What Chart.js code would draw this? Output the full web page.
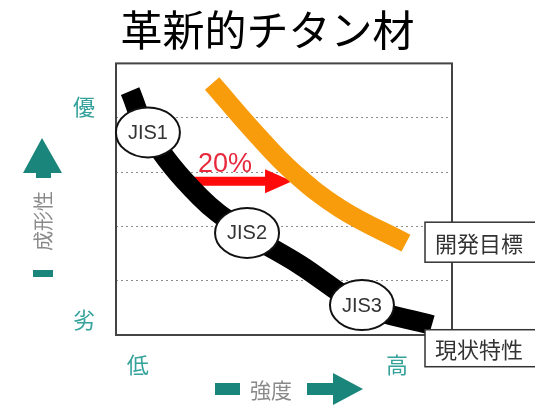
<!DOCTYPE html>
<html>
<head>
<meta charset="utf-8">
<script src="https://cdn.jsdelivr.net/npm/chart.js@4.4.1/dist/chart.umd.min.js"></script>
<style>
  html, body { margin: 0; padding: 0; background: #fff; }
  #wrap { width: 535px; height: 410px; }
</style>
</head>
<body>
<div id="wrap"><canvas id="chart"></canvas></div>
<script>
// strength (x: 0-10) vs formability (y: 0-5)
const currentX = [0.42, 0.95, 2.5, 3.9, 5.48, 7.32, 9.4];
const currentY = [4.49, 3.73, 2.54, 1.88, 1.29, 0.55, 0.18];
const targetX = [2.86, 4.2, 5.27, 6.67, 8.63];
const targetY = [4.63, 3.68, 3.0, 2.33, 1.69];
const jisNames = ['JIS1', 'JIS2', 'JIS3'];
const jisX = [0.95, 3.9, 7.32];
const jisY = [3.73, 1.88, 0.55];
const arrowX = [2.14, 5.24];
const arrowY = 2.83;
const arrowLabel = '20%';
const seriesLabels = ['現状特性', '開発目標'];
const xTickValues = [0.65, 8.36];
const xTickLabels = ['低', '高'];
const yTickValues = [0.28, 4.2];
const yTickLabels = ['劣', '優'];
const xTitle = '強度';
const yTitle = '成形性';

const TEAL = '#1a857a';
const TICK_TEAL = '#35a29b';

function toPoints(xs, ys) {
    return xs.map((x, i) => ({ x: x, y: ys[i] }));
}

function drawArrowRight(ctx, x0, x1, y, shaft, headLen, headH) {
    ctx.beginPath();
    ctx.rect(x0, y - shaft / 2, x1 - headLen - x0, shaft);
    ctx.moveTo(x1 - headLen, y - headH / 2);
    ctx.lineTo(x1, y);
    ctx.lineTo(x1 - headLen, y + headH / 2);
    ctx.closePath();
    ctx.fill();
}

const decor = {
    id: 'decor',
    beforeDatasetsDraw(chart) {
        const { ctx, scales } = chart;
        ctx.save();
        // red 20% arrow
        const ax0 = scales.x.getPixelForValue(arrowX[0]);
        const ax1 = scales.x.getPixelForValue(arrowX[1]);
        const ay = scales.y.getPixelForValue(arrowY);
        ctx.fillStyle = '#ff0a0a';
        drawArrowRight(ctx, ax0, ax1, ay, 9, 27, 24);
        ctx.fillStyle = '#e8283c';
        ctx.font = '27px "Liberation Sans", Arial, sans-serif';
        ctx.textAlign = 'left';
        ctx.textBaseline = 'alphabetic';
        ctx.fillText(arrowLabel, ax0 + 10, ay - 9);
        ctx.restore();
    },
    afterDatasetsDraw(chart) {
        const { ctx, chartArea: ca } = chart;
        ctx.save();
        // plot frame
        ctx.strokeStyle = '#444';
        ctx.lineWidth = 2;
        ctx.strokeRect(ca.left, ca.top, ca.right - ca.left, ca.bottom - ca.top);

        // JIS grade ellipses
        const jisMeta = chart.getDatasetMeta(2);
        jisMeta.data.forEach((pt, i) => {
            ctx.beginPath();
            ctx.ellipse(pt.x, pt.y, 32, 25, 0, 0, Math.PI * 2);
            ctx.fillStyle = '#fff';
            ctx.fill();
            ctx.lineWidth = 2;
            ctx.strokeStyle = '#111';
            ctx.stroke();
            ctx.fillStyle = '#333';
            ctx.font = '20px "Liberation Sans", Arial, sans-serif';
            ctx.textAlign = 'center';
            ctx.textBaseline = 'middle';
            ctx.fillText(jisNames[i], pt.x, pt.y + 1);
        });

        // series name boxes at the line ends
        const ends = [
            { meta: chart.getDatasetMeta(0), dy: 23, h: 37 },
            { meta: chart.getDatasetMeta(1), dy: -1, h: 40 }
        ];
        ends.forEach((e, i) => {
            const last = e.meta.data[e.meta.data.length - 1];
            const bx = ca.right - 27;
            const by = last.y + e.dy - e.h / 2;
            ctx.fillStyle = '#fff';
            ctx.fillRect(bx, by, 130, e.h);
            ctx.strokeStyle = '#333';
            ctx.lineWidth = 1.5;
            ctx.strokeRect(bx, by, 130, e.h);
            ctx.fillStyle = '#333';
            ctx.font = '22px "Noto Sans CJK JP", sans-serif';
            ctx.textAlign = 'left';
            ctx.textBaseline = 'middle';
            ctx.fillText(seriesLabels[i], bx + 10, by + e.h / 2 + 1);
        });
        ctx.restore();
    },
    afterDraw(chart) {
        const { ctx, chartArea: ca } = chart;
        ctx.save();
        ctx.fillStyle = TEAL;
        // x axis title: block, text, fat arrow
        const ty = ca.bottom + 54;
        ctx.fillRect(215, ty - 6, 25, 12);
        drawArrowRight(ctx, 307, 363, ty, 12, 30, 32);
        ctx.fillStyle = '#8a8a8a';
        ctx.font = '21px "Noto Sans CJK JP", sans-serif';
        ctx.textAlign = 'left';
        ctx.textBaseline = 'middle';
        ctx.fillText(xTitle, 250, ty + 1);

        // y axis title: rotated, bar at bottom, arrow pointing up
        const cx = ca.left - 73;
        ctx.fillStyle = TEAL;
        ctx.fillRect(cx - 10, 270, 20, 7);
        ctx.beginPath();
        ctx.rect(cx - 7, 172, 15, 6);
        ctx.moveTo(cx - 20, 173);
        ctx.lineTo(cx - 1, 138);
        ctx.lineTo(cx + 19, 173);
        ctx.closePath();
        ctx.fill();
        ctx.translate(cx, 221);
        ctx.rotate(-Math.PI / 2);
        ctx.fillStyle = '#8a8a8a';
        ctx.font = '20px "Noto Sans CJK JP", sans-serif';
        ctx.textAlign = 'center';
        ctx.textBaseline = 'middle';
        ctx.fillText(yTitle, 0, 0);
        ctx.restore();
    }
};

Chart.defaults.font.family = '"Noto Sans CJK JP", sans-serif';

new Chart(document.getElementById('chart'), {
    type: 'line',
    data: {
        datasets: [{
            label: seriesLabels[0],
            data: toPoints(currentX, currentY),
            borderColor: '#000',
            borderWidth: 20,
            tension: 0.4,
            pointRadius: 0,
            borderJoinStyle: 'round',
            clip: false
        }, {
            label: seriesLabels[1],
            data: toPoints(targetX, targetY),
            borderColor: '#f99c0c',
            borderWidth: 19,
            tension: 0.4,
            pointRadius: 0,
            borderJoinStyle: 'round',
            clip: false
        }, {
            label: 'JIS',
            data: toPoints(jisX, jisY),
            showLine: false,
            pointRadius: 0
        }]
    },
    options: {
        responsive: true,
        maintainAspectRatio: false,
        animation: false,
        layout: { padding: 0 },
        plugins: {
            legend: { display: false },
            tooltip: { enabled: false },
            title: {
                display: true,
                text: '革新的チタン材',
                color: '#000',
                font: { size: 42, weight: 'normal' },
                padding: { top: 5, bottom: 8 }
            }
        },
        scales: {
            x: {
                type: 'linear',
                min: 0,
                max: 10,
                grid: { display: false, drawTicks: false },
                border: { display: false },
                afterBuildTicks: s => { s.ticks = xTickValues.map(v => ({ value: v })); },
                ticks: {
                    callback: (v, i) => xTickLabels[i],
                    color: TICK_TEAL,
                    font: { size: 22 },
                    padding: 16,
                    maxRotation: 0,
                    autoSkip: false
                },
                afterFit: s => { s.height = 75; }
            },
            y: {
                type: 'linear',
                min: 0,
                max: 5,
                weight: 0,
                grid: { color: '#8c8c8c', lineWidth: 1, drawTicks: false },
                border: { display: false, dash: [2, 3] },
                ticks: { display: false, stepSize: 1 },
                afterFit: s => { s.width = 0; }
            },
            y2: {
                type: 'linear',
                position: 'left',
                min: 0,
                max: 5,
                weight: 1,
                grid: { display: false, drawTicks: false },
                border: { display: false },
                afterBuildTicks: s => { s.ticks = yTickValues.map(v => ({ value: v })); },
                ticks: {
                    callback: (v, i) => yTickLabels[i],
                    color: TICK_TEAL,
                    font: { size: 22 },
                    padding: 21,
                    autoSkip: false
                },
                afterFit: s => { s.width = 116; }
            },
            // empty strip on the right where the series name boxes sit
            yRight: {
                type: 'linear',
                position: 'right',
                min: 0,
                max: 5,
                grid: { display: false, drawTicks: false },
                border: { display: false },
                ticks: { display: false },
                afterFit: s => { s.width = 83; }
            }
        }
    },
    plugins: [decor]
});
</script>
</body>
</html>
